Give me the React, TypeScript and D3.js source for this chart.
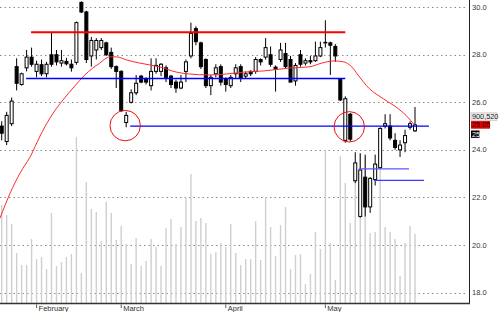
import React from 'react';
import * as d3 from 'd3';

const opens = [25.0,24.35,25.1,27.5,26.75,27.45,27.9,27.3,27.58,27.2,28.0,28.0,27.65,27.72,27.6,27.68,30.2,29.8,27.95,28.2,28.3,28.5,28.1,27.5,27.3,25.15,26.0,26.4,27.1,27.0,26.7,27.3,27.3,27.45,27.1,26.85,26.6,27.3,27.95,29.1,28.5,27.8,26.7,27.2,27.5,27.0,26.7,27.2,27.5,27.1,27.3,27.3,27.8,27.9,28.0,27.48,27.8,28.05,27.8,26.9,28.0,27.65,27.75,27.75,27.95,28.5,28.5,28.35,27.0,24.4,25.5,22.7,21.2,22.85,21.6,22.75,23.25,25.0,25.0,24.4,24.0,24.3,24.95,24.8];
const highs = [25.2,25.6,26.2,27.85,27.25,28.2,28.3,27.75,27.8,27.7,28.95,28.2,28.2,27.87,27.8,29.4,30.25,29.85,28.75,28.7,28.7,28.55,28.3,27.55,27.35,25.6,26.55,27.15,27.15,27.05,27.85,27.85,27.65,27.55,27.15,26.95,27.15,27.8,29.35,29.2,28.55,27.85,27.15,27.6,27.6,27.05,27.15,27.6,27.6,27.3,27.35,27.9,27.85,28.7,28.35,27.55,28.5,28.5,27.95,27.65,28.2,27.85,27.95,28.55,28.55,29.45,28.55,28.45,27.02,26.25,25.55,23.9,23.85,23.8,22.85,23.8,24.95,25.5,25.5,24.7,24.4,24.85,25.2,25.8];
const lows = [24.4,24.2,25.0,26.5,26.7,27.3,27.5,27.05,27.1,27.05,27.5,27.55,27.5,27.55,27.29,27.58,29.75,27.65,27.5,27.8,28.2,27.95,27.4,26.6,25.6,24.95,25.95,26.3,26.8,26.75,26.5,27.2,27.1,26.85,26.6,26.4,26.55,26.85,27.85,28.4,27.4,26.6,26.3,27.05,26.7,26.45,26.6,27.0,26.85,27.0,27.1,27.2,27.55,27.8,27.5,26.45,27.7,27.4,26.85,26.7,27.5,27.55,27.6,27.7,27.9,28.3,27.15,27.7,26.05,24.3,24.35,22.6,21.15,21.2,21.35,22.5,23.2,24.9,24.4,24.0,23.7,23.9,24.85,24.75];
const closes = [24.7,25.45,26.05,26.8,27.2,27.9,27.6,27.6,27.2,27.6,27.6,27.7,27.75,27.62,27.45,29.35,29.8,27.8,28.6,28.6,28.6,28.0,27.5,27.3,25.65,25.45,26.4,26.8,26.85,26.85,27.3,27.55,27.6,27.05,26.75,26.6,26.85,27.7,28.9,28.55,27.5,26.7,27.05,27.45,26.85,26.75,27.05,27.45,27.0,27.2,27.2,27.8,27.7,28.3,27.6,27.4,28.2,27.5,26.85,27.55,27.6,27.75,27.7,27.95,28.3,28.52,28.4,27.95,26.1,26.15,24.45,23.45,23.15,21.6,22.8,23.4,24.9,25.1,24.5,24.1,24.2,24.6,25.1,25.05];
// volume in thousands of shares
const volumes = [1278,1148,1030,652,496,496,835,574,600,443,1174,483,535,600,639,2165,391,1578,1226,1187,809,1317,1174,822,1004,770,509,848,483,548,835,730,483,978,1096,770,991,1383,1683,1070,1109,1043,639,665,783,730,1030,652,496,574,574,1070,561,1383,991,613,1017,1252,443,626,639,248,378,926,704,1996,783,300,1917,1565,1043,1826,1957,1904,913,926,1996,991,926,835,352,783,1004,901];

const monthLabels = ['February', 'March', 'April', 'May'];
const monthIdx = [7, 24, 45, 65];
const priceTicks = [18, 20, 22, 24, 26, 28, 30];

const maIdx = [-0.34, 1.7, 3.7, 5.7, 7.7, 9.7, 12.3, 14.7, 16.7, 19.7, 21.7, 23.1, 25.1, 27.7, 31.7, 35.1, 37.7, 41.7, 45.1, 48.7, 52.7, 57.7, 61.7, 64.3, 66.7, 68.7, 70.3, 71.7, 73.7, 76.7, 79.7, 81.7, 82.7];
const maVal = [21.13, 22.18, 23.03, 23.7, 24.58, 25.34, 26.1, 26.69, 27.15, 27.65, 27.91, 27.91, 27.78, 27.65, 27.49, 27.27, 27.19, 27.15, 27.19, 27.27, 27.32, 27.44, 27.49, 27.65, 27.74, 27.7, 27.49, 27.11, 26.6, 26.14, 25.72, 25.34, 25.09];

const levelVals = [28.95, 27.0, 25.0, 23.2, 22.72];
const levelFrom = [5.9, 4.9, 25.8, 71.7, 74.8];
const levelTo = [69, 69, 85.8, 81.8, 84.8];

const circleIdx = [24.8, 69.8];
const circleVal = [25.02, 24.97];

const lastVolumeLabel = '900,520';
const lastClose = 25.05;
const extraLabel = '25';

const W = 500;
const H = 312;

export default function App() {
  const x = d3.scaleLinear().domain([0, 83]).range([1.7, 415]);
  const y = d3.scaleLinear().domain([18, 30]).range([292.5, 7.2]);
  const yVol = d3.scaleLinear().domain([0, 3900]).range([303, 4]);
  const plotRight = 469;
  const axisY = 303.5;
  const font = '"Liberation Sans", Arial, sans-serif';

  const maLine = d3
    .line<number>()
    .x((_, i) => x(maIdx[i]))
    .y((d) => y(d))
    .curve(d3.curveMonotoneX)(maVal) || '';

  const levelColors = ['#ff0000', '#0000ff', '#0000ff', '#5a5aff', '#3a3aff'];
  const levelWidths = [2, 1.5, 1.3, 1.3, 1.3];

  const fmtFixed = d3.format('.1f');
  const closeY = y(lastClose);

  return (
    <svg
      width={W}
      height={H}
      style={{ position: 'absolute', left: 0, top: 0, background: '#fff' }}
      fontFamily={font}
    >
      <rect x={0} y={0} width={W} height={H} fill="#fff" />
      {/* grid */}
      {priceTicks.map((t) => (
        <line
          key={'g' + t}
          x1={0}
          x2={plotRight - 2}
          y1={Math.round(y(t)) + 0.5}
          y2={Math.round(y(t)) + 0.5}
          stroke="#8a8a8a"
          strokeWidth={1}
          strokeDasharray="1.5,3"
        />
      ))}
      {/* volume */}
      {volumes.map((v, i) => (
        <rect
          key={'v' + i}
          x={x(i) - 0.7}
          y={yVol(v)}
          width={1.4}
          height={axisY - yVol(v)}
          fill="#cfcfcf"
        />
      ))}
      {/* candles */}
      {opens.map((o, i) => {
        const c = closes[i];
        const up = c >= o;
        const top = y(Math.max(o, c));
        const bot = y(Math.min(o, c));
        const cx = x(i);
        return (
          <g key={'c' + i}>
            <line x1={cx} x2={cx} y1={y(highs[i])} y2={y(lows[i])} stroke="#000" strokeWidth={1} />
            <rect
              x={cx - 1.5}
              y={top}
              width={3}
              height={Math.max(bot - top, 0.4)}
              fill={up ? '#fff' : '#000'}
              stroke="#000"
              strokeWidth={1}
            />
          </g>
        );
      })}
      {/* moving average */}
      <path d={maLine} fill="none" stroke="#ff2a2a" strokeWidth={1} />
      {/* support / resistance levels */}
      {levelVals.map((v, i) => (
        <line
          key={'l' + i}
          x1={x(levelFrom[i])}
          x2={x(levelTo[i])}
          y1={y(v)}
          y2={y(v)}
          stroke={levelColors[i]}
          strokeWidth={levelWidths[i]}
        />
      ))}
      {/* circles */}
      {circleIdx.map((ci, i) => (
        <circle key={'o' + i} cx={x(ci)} cy={y(circleVal[i])} r={15.2} fill="none" stroke="#f01010" strokeWidth={1} />
      ))}
      {/* frame */}
      <line x1={plotRight + 0.5} x2={plotRight + 0.5} y1={0} y2={axisY} stroke="#222" strokeWidth={1} />
      <line x1={0} x2={plotRight + 1} y1={axisY} y2={axisY} stroke="#333" strokeWidth={1.5} />
      {/* price labels */}
      {priceTicks.map((t) => (
        <text key={'t' + t} x={472} y={y(t)} dy="0.35em" fontSize={7.5} fill="#333">
          {fmtFixed(t)}
        </text>
      ))}
      {/* month labels */}
      {monthLabels.map((m, i) => (
        <g key={'m' + m}>
          <line x1={x(monthIdx[i])} x2={x(monthIdx[i])} y1={axisY + 1} y2={axisY + 4.5} stroke="#333" strokeWidth={0.8} />
          <text x={x(monthIdx[i]) + 2} y={310.5} fontSize={7.5} fill="#333">
            {m}
          </text>
        </g>
      ))}
      {/* last value boxes */}
      <rect x={471} y={closeY - 12} width={26} height={7.5} fill="#ececec" stroke="#aaa" strokeWidth={0.5} />
      <text x={472} y={closeY - 8.2} dy="0.35em" fontSize={7.3} fill="#222">
        {lastVolumeLabel}
      </text>
      <rect x={471} y={closeY - 3.8} width={19} height={7.6} fill="#e00000" />
      <text x={472} y={closeY} dy="0.35em" fontSize={7.3} fill="#2a0000">
        {d3.format('.2f')(lastClose)}
      </text>
      <rect x={471} y={closeY + 5.6} width={8.5} height={7.4} fill="#000" />
      <text x={472} y={closeY + 9.3} dy="0.35em" fontSize={7.3} fill="#fff">
        {extraLabel}
      </text>
    </svg>
  );
}
